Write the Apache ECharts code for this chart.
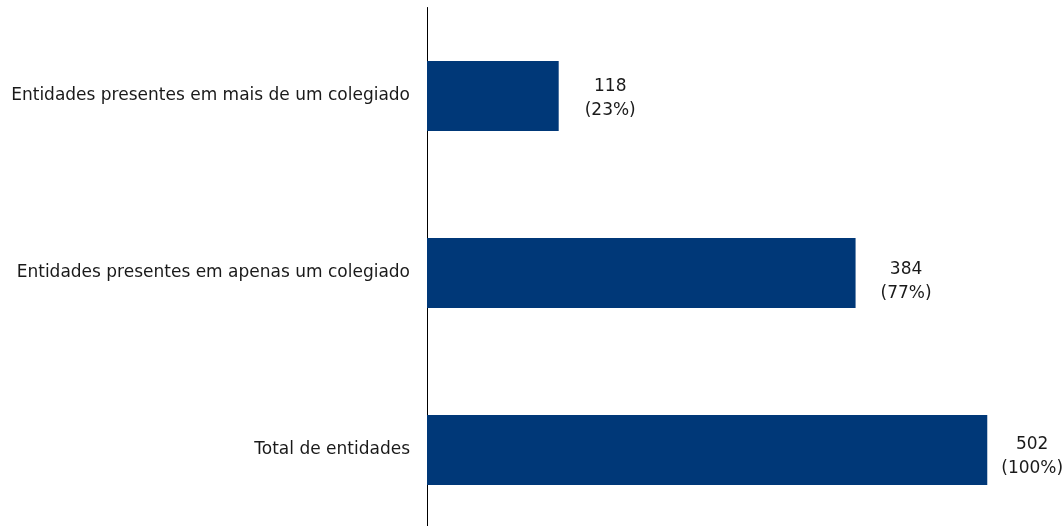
<!DOCTYPE html>
<html>
<head>
<meta charset="utf-8">
<script src="https://cdn.jsdelivr.net/npm/echarts@6/dist/echarts.min.js"></script>
<style>
  html, body { margin: 0; padding: 0; background: #ffffff; overflow: hidden; }
  #chart { width: 1064px; height: 540px; }
</style>
</head>
<body>
<div id="chart"></div>
<script>
// Categories, top to bottom as drawn
const categories = [
  'Entidades presentes em mais de um colegiado',
  'Entidades presentes em apenas um colegiado',
  'Total de entidades'
];
// Number of entities per category
const values = [118, 384, 502];
// Share of the total shown under each value
const shares = ['23%', '77%', '100%'];

// Gap between each bar end and its label, and the label's vertical nudge
const labelGaps = [26, 25, 14];
const labelShifts = [3, 9, 7];

const chart = echarts.init(document.getElementById('chart'), null, { renderer: 'canvas' });

const fontFamily = '"DejaVu Sans", "Noto Sans", sans-serif';

chart.setOption({
  animation: false,
  backgroundColor: '#ffffff',
  grid: { left: 427, right: 12, top: 7.5, bottom: 1.5, containLabel: false },
  xAxis: {
    type: 'value',
    min: 0,
    max: 560,
    show: false
  },
  yAxis: {
    type: 'category',
    inverse: true,
    data: categories,
    axisLine: { show: true, lineStyle: { color: '#000000', width: 1 } },
    axisTick: { show: false },
    splitLine: { show: false },
    axisLabel: {
      margin: 17,
      color: '#1a1a1a',
      fontSize: 17,
      fontFamily: fontFamily
    }
  },
  series: [{
    type: 'bar',
    barWidth: 70,
    itemStyle: { color: '#003878' },
    data: values.map((v, i) => ({
      value: v,
      label: {
        show: true,
        position: 'right',
        distance: labelGaps[i],
        offset: [0, labelShifts[i]],
        formatter: () => '{t|' + v + '}\n{t|(' + shares[i] + ')}',
        rich: {
          t: {
            align: 'center',
            color: '#1a1a1a',
            fontSize: 17,
            lineHeight: 24,
            fontFamily: fontFamily
          }
        }
      }
    }))
  }]
});
</script>
</body>
</html>
